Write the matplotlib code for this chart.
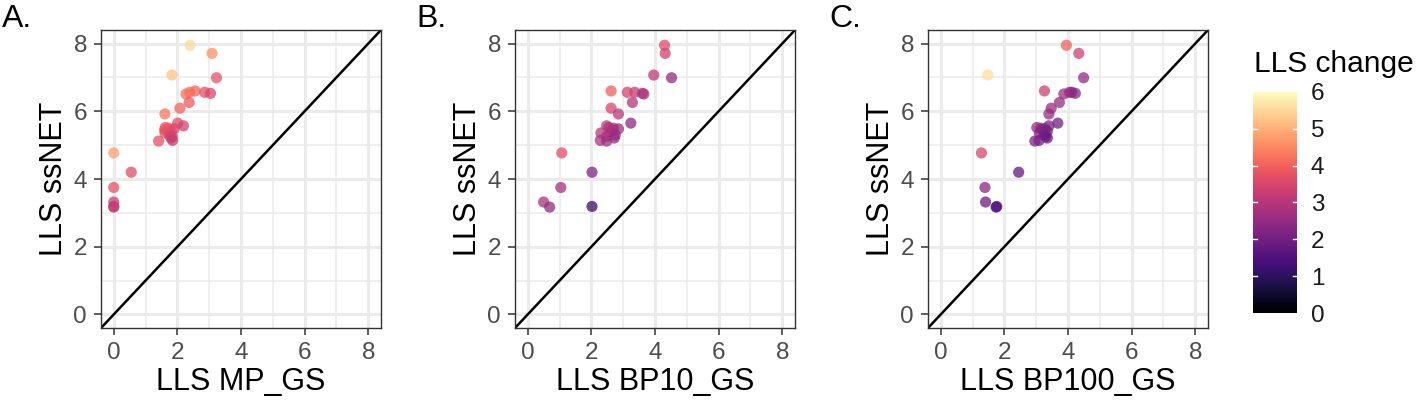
import numpy as np
import matplotlib
matplotlib.use("Agg")
import matplotlib.pyplot as plt
from matplotlib.colors import Normalize

plt.rcParams['font.family'] = ['Liberation Sans', 'DejaVu Sans']

# LLS of ssNET (shared y for all three panels)
ssnet = [7.95, 7.71, 7.07, 6.99, 6.60, 6.56, 6.56, 6.53, 6.51, 6.26,
         6.09, 5.92, 5.65, 5.57, 5.52, 5.50, 5.48, 5.45, 5.40, 5.36,
         5.30, 5.26, 5.21, 5.14, 5.12, 4.77, 4.20, 3.75, 3.32, 3.17, 3.19]
mp_gs = [2.40, 3.09, 1.83, 3.23, 2.56, 2.39, 2.86, 3.04, 2.27, 2.37,
         2.08, 1.61, 2.01, 2.19, 1.62, 1.72, 1.90, 1.60, 1.80, 1.61,
         1.75, 1.84, 1.80, 1.85, 1.41, 0.00, 0.55, 0.00, 0.00, 0.00, 0.00]
bp10_gs = [4.30, 4.32, 3.96, 4.52, 2.62, 3.36, 3.13, 3.60, 3.65, 3.29,
           2.62, 2.85, 3.24, 2.48, 2.55, 2.70, 2.85, 2.65, 2.60, 2.30,
           2.75, 2.48, 2.72, 2.28, 2.48, 1.07, 2.02, 1.04, 0.50, 0.69, 2.02]
bp100_gs = [3.95, 4.34, 1.48, 4.49, 3.26, 4.05, 4.12, 4.23, 3.87, 3.73,
            3.47, 3.40, 3.68, 3.40, 3.02, 3.15, 3.28, 3.20, 3.35, 3.10,
            3.25, 3.30, 3.35, 3.09, 2.96, 1.28, 2.45, 1.39, 1.41, 1.74, 1.76]

panels = [("A.", "LLS MP_GS", mp_gs),
          ("B.", "LLS BP10_GS", bp10_gs),
          ("C.", "LLS BP100_GS", bp100_gs)]
ticks = [0, 2, 4, 6, 8]

W, H = 1416, 405
fig = plt.figure(figsize=(W / 100, H / 100), dpi=100)
norm = Normalize(0, 6)
cmap = plt.get_cmap('magma')

lefts = [101, 515, 928]
y = np.array(ssnet)
for (lab, xlab, xs), l in zip(panels, lefts):
    ax = fig.add_axes([l / W, 1 - 328 / H, 280 / W, 298 / H])
    xs = np.array(xs)
    ax.set_xlim(-0.4, 8.4)
    ax.set_ylim(-0.4, 8.4)
    for v in ticks:
        ax.axvline(v, color='#ebebeb', lw=2.2, zorder=0)
        ax.axhline(v, color='#ebebeb', lw=2.2, zorder=0)
    for v in [1, 3, 5, 7]:
        ax.axvline(v, color='#ebebeb', lw=1.1, zorder=0)
        ax.axhline(v, color='#ebebeb', lw=1.1, zorder=0)
    ax.plot([-0.4, 8.4], [-0.4, 8.4], color='black', lw=1.8, zorder=1)
    ax.scatter(xs, y, c=y - xs, cmap=cmap, norm=norm, s=65, alpha=0.75,
               linewidths=0, zorder=2)
    ax.set_xticks(ticks)
    ax.set_yticks(ticks)
    ax.tick_params(labelsize=17.5, colors='#333333', labelcolor='#4d4d4d',
                   length=5, width=1.1, pad=5)
    for s in ax.spines.values():
        s.set_color('#333333')
        s.set_linewidth(1)
    ax.set_xlabel(xlab, fontsize=22, labelpad=2)
    ax.set_ylabel("LLS ssNET", fontsize=22, labelpad=3)
    fig.text((l - 99) / W, 1 - 27 / H, lab, fontsize=23,
             ha='left', va='baseline')

cax = fig.add_axes([1253 / W, 1 - 313 / H, 44 / W, 221 / H])
sm = plt.cm.ScalarMappable(norm=norm, cmap=cmap)
cb = fig.colorbar(sm, cax=cax, ticks=range(7))
cb.outline.set_visible(False)
cb.ax.tick_params(labelsize=17.5, length=0, pad=10, labelcolor='#1a1a1a')
for t in range(1, 6):
    cax.plot([0, 0.1], [t, t], color='white', lw=1, transform=cax.get_yaxis_transform())
    cax.plot([0.9, 1], [t, t], color='white', lw=1, transform=cax.get_yaxis_transform())
fig.text(1254 / W, 1 - 72 / H, "LLS change", fontsize=21.5, ha='left', va='baseline')

fig.savefig("out.png", dpi=100)
